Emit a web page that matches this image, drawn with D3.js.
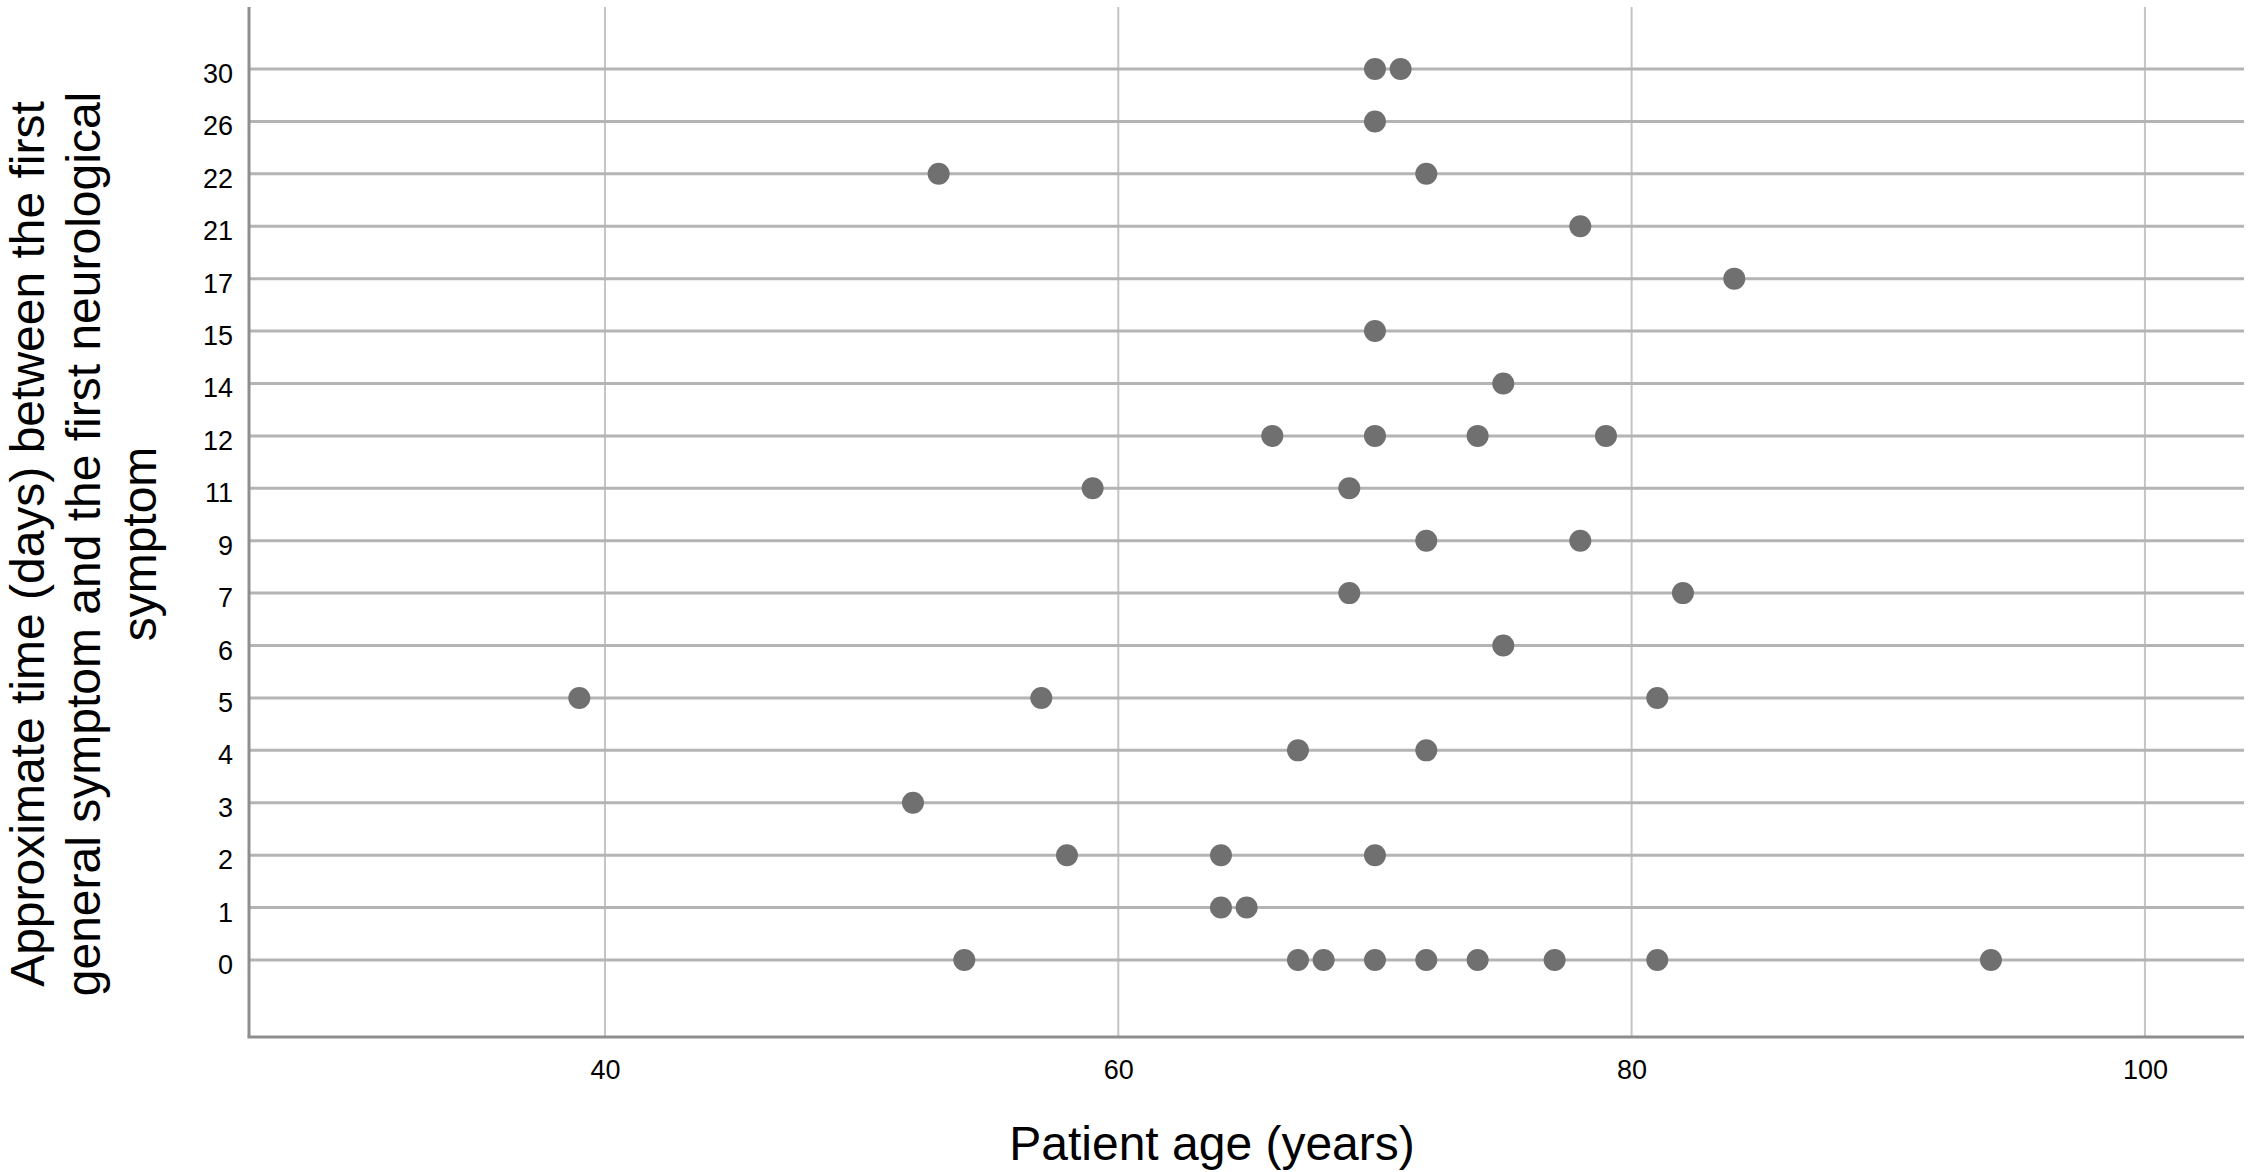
<!DOCTYPE html>
<html>
<head>
<meta charset="utf-8">
<script src="https://cdn.jsdelivr.net/npm/d3@7"></script>
<style>
  html, body { margin: 0; padding: 0; background: #ffffff; }
  svg { display: block; }
  text { font-family: "Liberation Sans", Arial, Helvetica, sans-serif; fill: #000; }
</style>
</head>
<body>
<svg id="chart" width="2250" height="1172"></svg>
<script>
// ---- Data ----
const dayCategories = ["30","26","22","21","17","15","14","12","11","9","7","6","5","4","3","2","1","0"];
const xTickValues = [40, 60, 80, 100];
const pointDays = [
  "30","30",
  "26",
  "22","22",
  "21",
  "17",
  "15",
  "14",
  "12","12","12","12",
  "11","11",
  "9","9",
  "7","7",
  "6",
  "5","5","5",
  "4","4",
  "3",
  "2","2","2",
  "1","1",
  "0","0","0","0","0","0","0","0","0"
];
const pointAges = [
  70, 71,
  70,
  53, 72,
  78,
  84,
  70,
  75,
  66, 70, 74, 79,
  59, 69,
  72, 78,
  69, 82,
  75,
  39, 57, 81,
  67, 72,
  52,
  58, 64, 70,
  64, 65,
  54, 67, 68, 70, 72, 74, 77, 81, 94
];
const xTitle = "Patient age (years)";
const yTitleLines = [
  "Approximate time (days) between the first",
  "general symptom and the first neurological",
  "symptom"
];

// ---- Layout ----
const svg = d3.select("#chart");
const plot = { left: 249, right: 2244, top: 7, bottom: 1037 };

const x = d3.scaleLinear().domain([26.13, 103.86]).range([plot.left, plot.right]);
const y = d3.scalePoint().domain(dayCategories).range([69, 960]);

// vertical gridlines
svg.append("g").selectAll("line").data(xTickValues).join("line")
  .attr("x1", d => x(d)).attr("x2", d => x(d))
  .attr("y1", plot.top).attr("y2", plot.bottom)
  .attr("stroke", "#c4c4c4").attr("stroke-width", 2);

// horizontal gridlines
svg.append("g").selectAll("line").data(dayCategories).join("line")
  .attr("x1", plot.left).attr("x2", plot.right)
  .attr("y1", d => y(d)).attr("y2", d => y(d))
  .attr("stroke", "#b4b4b4").attr("stroke-width", 3);

// axis lines
svg.append("line")
  .attr("x1", plot.left).attr("x2", plot.left)
  .attr("y1", plot.top).attr("y2", plot.bottom)
  .attr("stroke", "#8e8e8e").attr("stroke-width", 3);
svg.append("line")
  .attr("x1", plot.left - 1.5).attr("x2", plot.right)
  .attr("y1", plot.bottom).attr("y2", plot.bottom)
  .attr("stroke", "#8e8e8e").attr("stroke-width", 3);

// y axis labels
const yAxis = svg.append("g")
  .attr("transform", `translate(${plot.left},0)`)
  .call(d3.axisLeft(y).tickSize(0).tickPadding(16));
yAxis.select(".domain").remove();
yAxis.selectAll("text")
  .attr("font-size", 27)
  .attr("font-family", "Liberation Sans, Arial, sans-serif")
  .attr("dy", "0.5em")
  .attr("fill", "#000");

// x axis labels
const xAxis = svg.append("g")
  .attr("transform", `translate(0,${plot.bottom})`)
  .call(d3.axisBottom(x).tickValues(xTickValues).tickSize(0).tickPadding(23));
xAxis.select(".domain").remove();
xAxis.selectAll("text")
  .attr("font-size", 27)
  .attr("font-family", "Liberation Sans, Arial, sans-serif")
  .attr("fill", "#000");

// points
const pts = pointAges.map((a, i) => ({ age: a, day: pointDays[i] }));
svg.append("g").selectAll("circle").data(pts).join("circle")
  .attr("cx", d => x(d.age))
  .attr("cy", d => y(d.day))
  .attr("r", 11)
  .attr("fill", "#707070");

// x title
svg.append("text")
  .attr("x", 1212).attr("y", 1160)
  .attr("text-anchor", "middle")
  .attr("font-size", 48)
  .text(xTitle);

// y title
const yt = svg.append("text")
  .attr("transform", "translate(44,544) rotate(-90)")
  .attr("text-anchor", "middle")
  .attr("font-size", 48);
yTitleLines.forEach((line, i) => {
  yt.append("tspan").attr("x", 0).attr("y", i * 56).text(line);
});
</script>
</body>
</html>
